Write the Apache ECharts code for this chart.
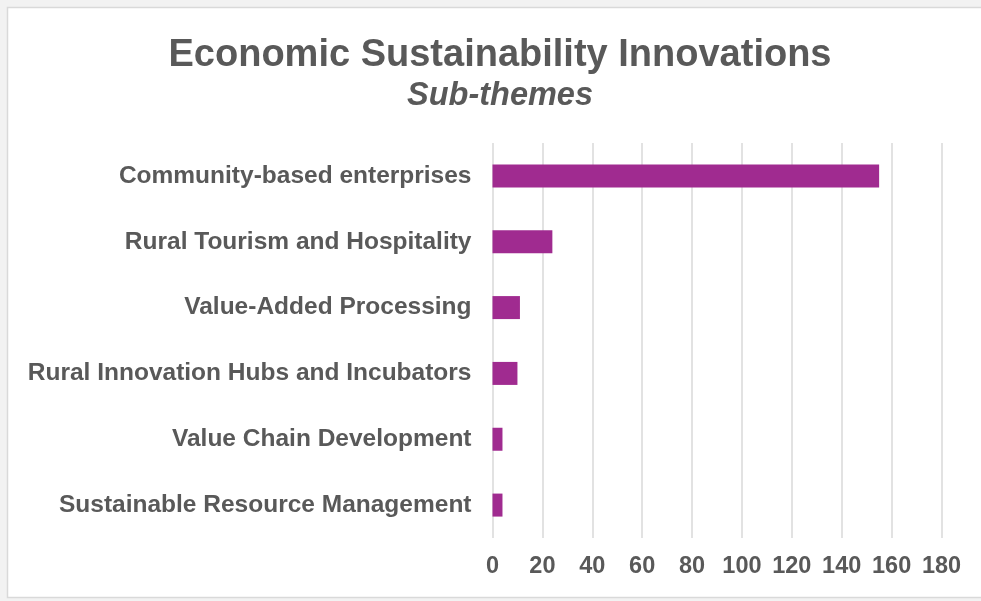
<!DOCTYPE html>
<html>
<head>
<meta charset="utf-8">
<title>Economic Sustainability Innovations</title>
<script src="https://cdn.jsdelivr.net/npm/echarts@6/dist/echarts.min.js"></script>
<style>
  html, body { margin: 0; padding: 0; background: #f2f2f2; }
  #chart { width: 981px; height: 601px; }
</style>
</head>
<body>
<div id="chart"></div>
<script>
// Sub-theme counts, listed top to bottom
const categories = [
  'Community-based enterprises',
  'Rural Tourism and Hospitality',
  'Value-Added Processing',
  'Rural Innovation Hubs and Incubators',
  'Value Chain Development',
  'Sustainable Resource Management'
];
const counts = [155, 24, 11, 10, 4, 4];
const xTicks = [0, 20, 40, 60, 80, 100, 120, 140, 160, 180];

const chart = echarts.init(document.getElementById('chart'), null, { renderer: 'canvas' });
const textGray = '#595959';
const font = '"Liberation Sans", Arial, sans-serif';

chart.setOption({
  animation: false,
  backgroundColor: '#f2f2f2',
  graphic: [{
    type: 'rect',
    z: -10,
    shape: { x: 7.5, y: 7.5, width: 990, height: 590 },
    style: { fill: '#ffffff', stroke: '#d9d9d9', lineWidth: 1.5 }
  }],
  title: [{
    text: 'Economic Sustainability Innovations',
    left: 495,
    textAlign: 'center',
    top: 32,
    textStyle: { fontFamily: font, fontSize: 38, fontWeight: 'bold', color: textGray, lineHeight: 38 }
  }, {
    text: 'Sub-themes',
    left: 495,
    textAlign: 'center',
    top: 75,
    textStyle: { fontFamily: font, fontSize: 32.5, fontWeight: 'bold', fontStyle: 'italic', color: textGray, lineHeight: 32.5 }
  }],
  grid: { left: 492.5, right: 39.5, top: 143, bottom: 63, containLabel: false },
  xAxis: {
    type: 'value',
    min: xTicks[0],
    max: xTicks[xTicks.length - 1],
    interval: xTicks[1] - xTicks[0],
    axisLine: { show: false },
    axisTick: { show: false },
    splitLine: { show: true, lineStyle: { color: '#d9d9d9', width: 1.5 } },
    axisLabel: { fontFamily: font, fontSize: 23.5, fontWeight: 'bold', color: textGray, margin: 17 }
  },
  yAxis: {
    type: 'category',
    inverse: true,
    data: categories,
    axisLine: { show: false },
    axisTick: { show: false },
    axisLabel: { fontFamily: font, fontSize: 24.5, fontWeight: 'bold', color: textGray, margin: 21 }
  },
  series: [{
    type: 'bar',
    data: counts,
    barWidth: 23,
    itemStyle: { color: '#A02B90' }
  }]
});
</script>
</body>
</html>
